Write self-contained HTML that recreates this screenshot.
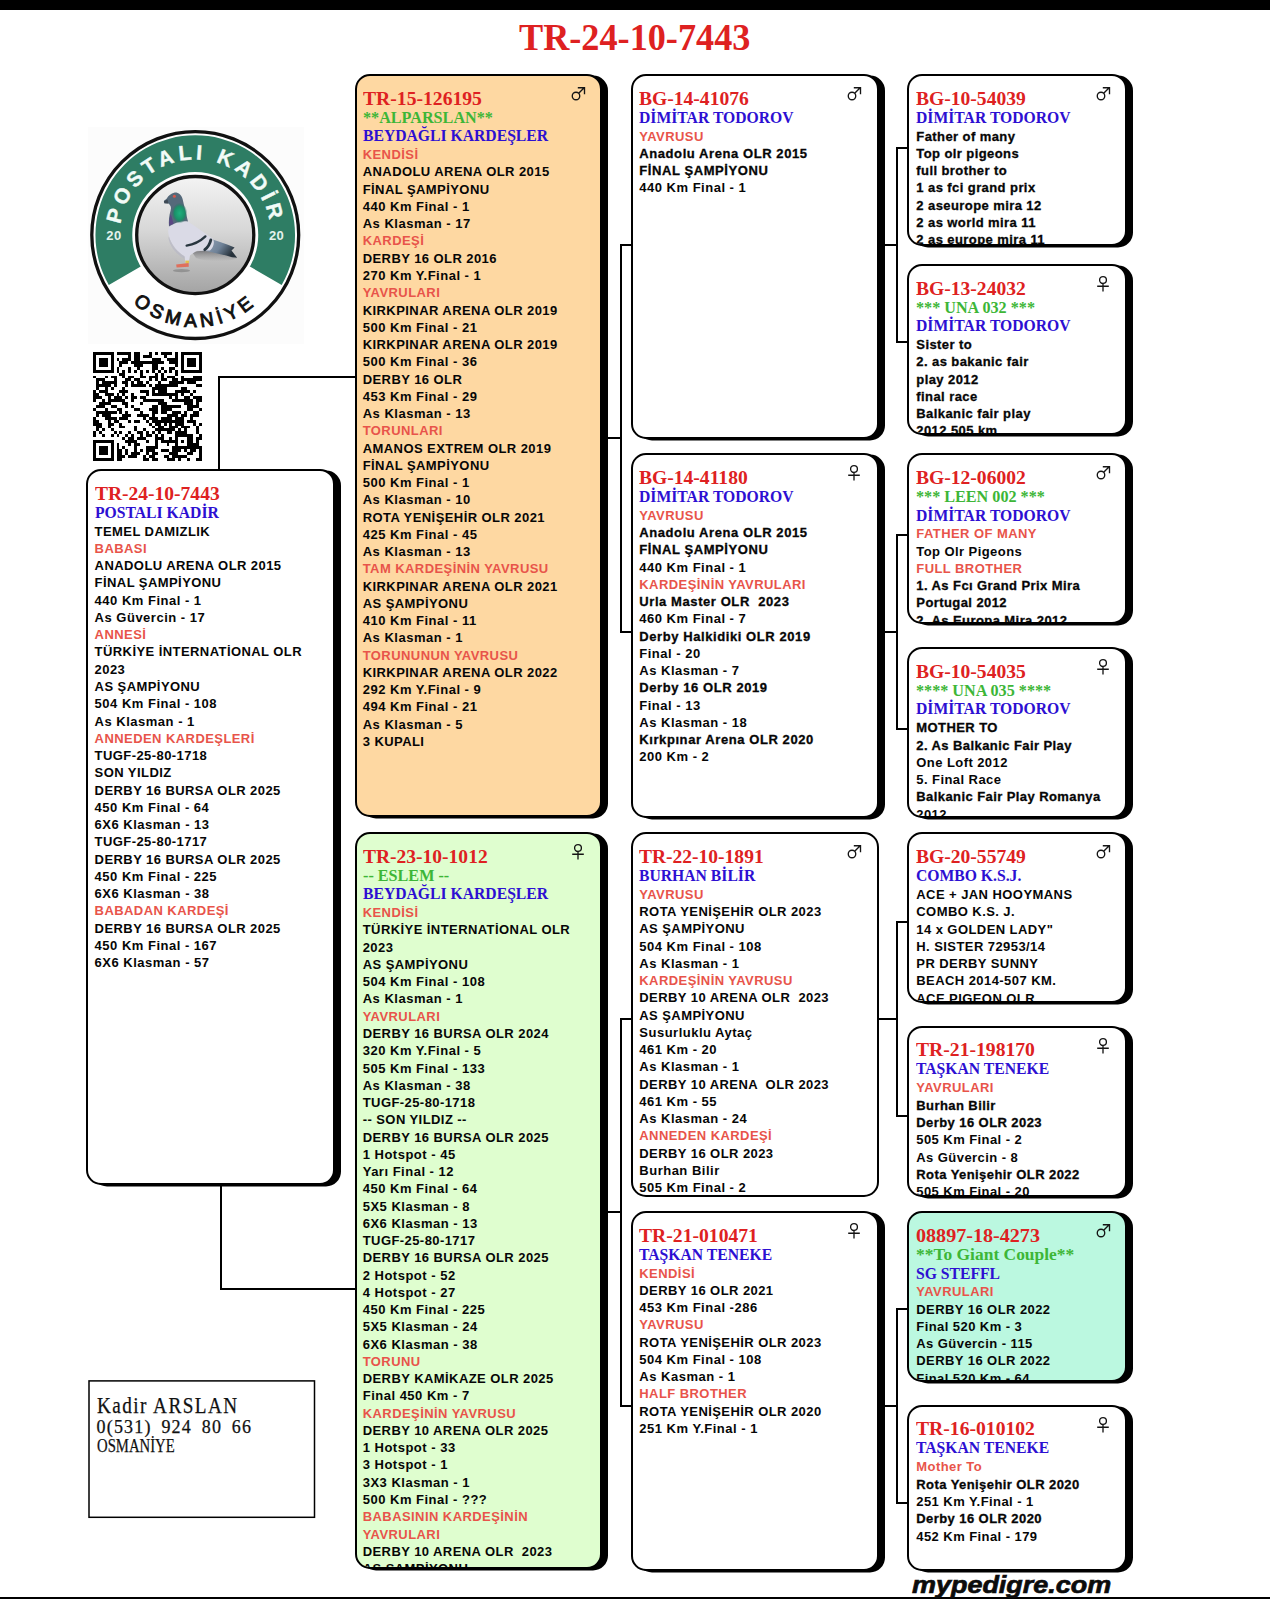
<!DOCTYPE html>
<html lang="tr"><head><meta charset="utf-8"><title>TR-24-10-7443</title>
<style>
html,body{margin:0;padding:0;background:#fff}
body{width:1270px;height:1599px;position:relative;overflow:hidden;font-family:"Liberation Sans",sans-serif}
.box{position:absolute;box-sizing:border-box;border:2px solid #000;border-radius:15px;overflow:hidden}
.l{position:absolute;white-space:pre;font-family:"Liberation Sans",sans-serif;font-weight:bold;font-size:13.0px;line-height:17.26px;letter-spacing:0.43px}
.s{position:absolute;white-space:pre;font-family:"Liberation Serif",serif;line-height:20px;transform-origin:0 0}
.sx{position:absolute;overflow:visible}
.ln{position:absolute;background:#000}
</style></head><body>
<div class="ln" style="left:0;top:0;width:1270px;height:9.5px"></div>
<div class="ln" style="left:0;top:1596.7px;width:1270px;height:2.3px"></div>
<div class="s" style="left:519.4px;top:9.2px;font-size:38px;line-height:56px;font-weight:bold;color:#DE2121;transform:scaleX(0.953)">TR-24-10-7443</div>
<svg style="position:absolute;left:85px;top:124px" width="222" height="222" viewBox="85 124 222 222">
<defs><linearGradient id="gd" x1="0" y1="0" x2="0" y2="1"><stop offset="0" stop-color="#f4f4f4"/><stop offset="0.45" stop-color="#d8d8d8"/><stop offset="1" stop-color="#a3a3a3"/></linearGradient><path id="arcT" d="M 119.75 235.05 A 75.5 75.5 0 0 1 270.75 235.05"/><path id="arcB" d="M 103.35 235.05 A 91.9 91.9 0 0 0 287.15 235.05"/></defs>
<rect x="88" y="127" width="216" height="217" fill="#fcfcfc"/>
<circle cx="195.25" cy="235.05" r="103.45" fill="#fff" stroke="#111" stroke-width="3.3"/>
<path d="M 108.82 284.95 A 99.8 99.8 0 1 1 281.68 284.95 L 245.48 264.05 A 58 58 0 1 0 145.02 264.05 Z" fill="#2E7D64"/>
<circle cx="195.25" cy="235.05" r="63" fill="#fff"/>
<circle cx="195.25" cy="235.05" r="58.55" fill="url(#gd)" stroke="#111" stroke-width="3.3"/>
<text font-family="Liberation Sans, sans-serif" font-weight="bold" font-size="21" fill="#f2fbf7" stroke="#f2fbf7" stroke-width="0.4" letter-spacing="4.1"><textPath href="#arcT" startOffset="50%" text-anchor="middle">POSTALI KADİR</textPath></text>
<text font-family="Liberation Sans, sans-serif" font-weight="bold" font-size="13" fill="#e4f3ec" letter-spacing="0.5"><tspan x="106.3" y="240">20</tspan><tspan x="268.9" y="240">20</tspan></text>
<text font-family="Liberation Sans, sans-serif" font-weight="normal" font-size="19" fill="#111" stroke="#111" stroke-width="0.95" letter-spacing="4.5"><textPath href="#arcB" startOffset="50%" text-anchor="middle">OSMANİYE</textPath></text>

<g>
<defs>
<radialGradient id="gn" cx="50%" cy="50%" r="50%"><stop offset="0" stop-color="#1fb07e"/><stop offset="0.65" stop-color="#1a9068"/><stop offset="1" stop-color="#2c6d62" stop-opacity="0"/></radialGradient>
<linearGradient id="tl" x1="0" y1="0" x2="1" y2="0.45"><stop offset="0" stop-color="#9aa8bb"/><stop offset="0.6" stop-color="#6f8298"/><stop offset="1" stop-color="#27323b"/></linearGradient>
<linearGradient id="ush" x1="0" y1="0" x2="0" y2="1"><stop offset="0" stop-color="#6f6f73" stop-opacity="0.85"/><stop offset="1" stop-color="#8c8c8c" stop-opacity="0"/></linearGradient>
</defs>
<ellipse cx="181.5" cy="270.6" rx="8.5" ry="1.7" fill="#7c7c7c" opacity="0.6"/>
<path d="M192 252 C204 249.5 222 251 237 258.5 C228 262 208 262.5 196 258 Z" fill="url(#ush)"/>
<path d="M206 237.5 C216 240.5 226 243.5 234.6 247.6 L231.5 250.6 L237.2 257.8 L232 257.2 C223 254.5 212 252 202.5 250.5 Z" fill="url(#tl)"/>
<path d="M188 221.5 C195 226 204 232.5 212.5 238.6 C215 241.5 214 247 210 250.6 C204 250.4 199 250.4 196 251.2 C193.5 252.8 191.5 254 190 255.6 L188.6 263.2 L185.6 263.2 L184.4 256.2 C178 252.5 171.6 245.5 169 236.5 C167.8 232 168 229 169 226.5 C175 222.5 182 220.8 188 221.5 Z" fill="#dadae6"/>
<path d="M169 236.5 C171.6 245.5 178 252.5 184.4 256.2 L185 259 C177 255 170 247 168.4 238 Z" fill="#b8b8c6" opacity="0.7"/>
<path d="M163.9 201 L166.8 198.4 C168.2 196 170.6 193.6 174.8 192.6 C178.6 192.4 181.4 195.2 182.6 199 C184 205 186 213.5 188 221.5 C182 220.8 175 222.5 169 226.5 C168.6 221.5 169 215.5 170.6 210.5 C171.6 207.5 170.6 205.5 168.6 203.6 L164.4 203.2 Z" fill="#55697a"/>
<ellipse cx="179.6" cy="213.2" rx="7.8" ry="10.4" fill="url(#gn)"/>
<path d="M169.2 225.6 C169 221 169.6 217.6 170.6 214 C172 217 172.6 221 173.6 224 Z" fill="#5b3f86" opacity="0.8"/>
<path d="M163.9 201 L167.6 199.4 L168.4 203.4 L164.4 203.2 Z" fill="#3f4a55"/>
<circle cx="174.4" cy="196.2" r="1.5" fill="#d8584a"/>
<path d="M186.6 245.6 C194 244.5 200.6 241 205.4 236.4" stroke="#28363f" stroke-width="2.3" fill="none" stroke-linecap="round"/>
<path d="M204.8 249.6 C208.2 247 210 243.6 210.8 240" stroke="#28363f" stroke-width="2.9" fill="none" stroke-linecap="round"/>
<rect x="185.4" y="260.6" width="3.6" height="2.6" fill="#e2c04c"/>
<path d="M176.2 264.6 L188.6 263 L188.8 266.8 L176.6 267.4 Z" fill="#df6f5c"/>
</g>

</svg>
<svg style="position:absolute;left:93.4px;top:351.8px" width="108.8" height="108.8" viewBox="0 0 37 37" shape-rendering="crispEdges"><path d="M0 0h7v1h-7zM8 0h5v1h-5zM14 0h2v1h-2zM19 0h1v1h-1zM21 0h1v1h-1zM23 0h4v1h-4zM28 0h1v1h-1zM30 0h7v1h-7zM0 1h1v1h-1zM6 1h1v1h-1zM12 1h1v1h-1zM14 1h2v1h-2zM17 1h3v1h-3zM24 1h1v1h-1zM28 1h1v1h-1zM30 1h1v1h-1zM36 1h1v1h-1zM0 2h1v1h-1zM2 2h3v1h-3zM6 2h1v1h-1zM8 2h1v1h-1zM10 2h3v1h-3zM14 2h2v1h-2zM20 2h3v1h-3zM25 2h4v1h-4zM30 2h1v1h-1zM32 2h3v1h-3zM36 2h1v1h-1zM0 3h1v1h-1zM2 3h3v1h-3zM6 3h1v1h-1zM9 3h3v1h-3zM13 3h11v1h-11zM26 3h3v1h-3zM30 3h1v1h-1zM32 3h3v1h-3zM36 3h1v1h-1zM0 4h1v1h-1zM2 4h3v1h-3zM6 4h1v1h-1zM9 4h1v1h-1zM14 4h3v1h-3zM20 4h2v1h-2zM28 4h1v1h-1zM30 4h1v1h-1zM32 4h3v1h-3zM36 4h1v1h-1zM0 5h1v1h-1zM6 5h1v1h-1zM8 5h1v1h-1zM12 5h1v1h-1zM15 5h1v1h-1zM20 5h2v1h-2zM23 5h1v1h-1zM26 5h2v1h-2zM30 5h1v1h-1zM36 5h1v1h-1zM0 6h7v1h-7zM8 6h1v1h-1zM10 6h1v1h-1zM12 6h1v1h-1zM14 6h1v1h-1zM16 6h1v1h-1zM18 6h1v1h-1zM20 6h1v1h-1zM22 6h1v1h-1zM24 6h1v1h-1zM26 6h1v1h-1zM28 6h1v1h-1zM30 6h7v1h-7zM9 7h2v1h-2zM16 7h1v1h-1zM21 7h1v1h-1zM23 7h1v1h-1zM28 7h1v1h-1zM0 8h1v1h-1zM4 8h1v1h-1zM6 8h2v1h-2zM10 8h1v1h-1zM12 8h2v1h-2zM16 8h2v1h-2zM19 8h3v1h-3zM23 8h1v1h-1zM25 8h3v1h-3zM30 8h1v1h-1zM34 8h3v1h-3zM1 9h3v1h-3zM7 9h1v1h-1zM11 9h2v1h-2zM14 9h2v1h-2zM19 9h1v1h-1zM21 9h1v1h-1zM23 9h2v1h-2zM27 9h2v1h-2zM30 9h7v1h-7zM1 10h1v1h-1zM3 10h5v1h-5zM10 10h2v1h-2zM13 10h1v1h-1zM15 10h2v1h-2zM18 10h1v1h-1zM22 10h1v1h-1zM26 10h5v1h-5zM32 10h3v1h-3zM1 11h5v1h-5zM7 11h1v1h-1zM11 11h1v1h-1zM13 11h5v1h-5zM19 11h1v1h-1zM21 11h8v1h-8zM35 11h2v1h-2zM1 12h1v1h-1zM4 12h1v1h-1zM6 12h1v1h-1zM10 12h1v1h-1zM20 12h5v1h-5zM30 12h2v1h-2zM0 13h1v1h-1zM2 13h3v1h-3zM9 13h3v1h-3zM16 13h3v1h-3zM20 13h1v1h-1zM22 13h3v1h-3zM28 13h5v1h-5zM34 13h1v1h-1zM0 14h2v1h-2zM4 14h3v1h-3zM8 14h1v1h-1zM10 14h1v1h-1zM13 14h1v1h-1zM18 14h1v1h-1zM20 14h9v1h-9zM30 14h1v1h-1zM33 14h1v1h-1zM0 15h3v1h-3zM5 15h1v1h-1zM7 15h3v1h-3zM11 15h1v1h-1zM13 15h2v1h-2zM16 15h2v1h-2zM26 15h1v1h-1zM28 15h1v1h-1zM31 15h2v1h-2zM34 15h3v1h-3zM0 16h1v1h-1zM3 16h1v1h-1zM5 16h6v1h-6zM13 16h1v1h-1zM17 16h7v1h-7zM27 16h7v1h-7zM35 16h2v1h-2zM2 17h4v1h-4zM10 17h2v1h-2zM16 17h1v1h-1zM22 17h3v1h-3zM31 17h3v1h-3zM35 17h1v1h-1zM1 18h3v1h-3zM6 18h2v1h-2zM11 18h1v1h-1zM13 18h1v1h-1zM20 18h2v1h-2zM23 18h7v1h-7zM32 18h4v1h-4zM0 19h1v1h-1zM4 19h1v1h-1zM8 19h2v1h-2zM14 19h2v1h-2zM19 19h3v1h-3zM23 19h4v1h-4zM32 19h2v1h-2zM36 19h1v1h-1zM1 20h7v1h-7zM9 20h1v1h-1zM11 20h1v1h-1zM16 20h1v1h-1zM20 20h2v1h-2zM23 20h2v1h-2zM27 20h3v1h-3zM31 20h1v1h-1zM34 20h2v1h-2zM1 21h1v1h-1zM3 21h3v1h-3zM10 21h3v1h-3zM15 21h4v1h-4zM20 21h1v1h-1zM25 21h4v1h-4zM30 21h2v1h-2zM33 21h3v1h-3zM0 22h1v1h-1zM4 22h4v1h-4zM9 22h3v1h-3zM17 22h1v1h-1zM19 22h3v1h-3zM23 22h4v1h-4zM28 22h3v1h-3zM33 22h1v1h-1zM0 23h2v1h-2zM5 23h1v1h-1zM7 23h2v1h-2zM12 23h1v1h-1zM14 23h2v1h-2zM18 23h1v1h-1zM20 23h11v1h-11zM32 23h3v1h-3zM0 24h3v1h-3zM5 24h2v1h-2zM9 24h1v1h-1zM19 24h1v1h-1zM21 24h2v1h-2zM24 24h1v1h-1zM26 24h1v1h-1zM28 24h3v1h-3zM34 24h1v1h-1zM36 24h1v1h-1zM1 25h2v1h-2zM5 25h1v1h-1zM9 25h2v1h-2zM14 25h1v1h-1zM20 25h1v1h-1zM22 25h2v1h-2zM26 25h3v1h-3zM30 25h3v1h-3zM35 25h1v1h-1zM1 26h1v1h-1zM3 26h1v1h-1zM6 26h1v1h-1zM14 26h1v1h-1zM17 26h1v1h-1zM21 26h7v1h-7zM29 26h1v1h-1zM31 26h1v1h-1zM35 26h1v1h-1zM0 27h1v1h-1zM2 27h1v1h-1zM7 27h1v1h-1zM9 27h1v1h-1zM12 27h1v1h-1zM15 27h2v1h-2zM18 27h1v1h-1zM20 27h1v1h-1zM22 27h1v1h-1zM25 27h2v1h-2zM28 27h4v1h-4zM35 27h1v1h-1zM0 28h1v1h-1zM3 28h1v1h-1zM6 28h1v1h-1zM8 28h1v1h-1zM11 28h1v1h-1zM13 28h1v1h-1zM16 28h1v1h-1zM18 28h2v1h-2zM21 28h1v1h-1zM23 28h1v1h-1zM28 28h6v1h-6zM36 28h1v1h-1zM10 29h1v1h-1zM12 29h2v1h-2zM15 29h3v1h-3zM21 29h3v1h-3zM26 29h1v1h-1zM28 29h1v1h-1zM32 29h2v1h-2zM35 29h2v1h-2zM0 30h7v1h-7zM11 30h4v1h-4zM18 30h1v1h-1zM21 30h1v1h-1zM23 30h6v1h-6zM30 30h1v1h-1zM32 30h2v1h-2zM35 30h1v1h-1zM0 31h1v1h-1zM6 31h1v1h-1zM8 31h1v1h-1zM12 31h1v1h-1zM14 31h2v1h-2zM21 31h1v1h-1zM25 31h1v1h-1zM28 31h1v1h-1zM32 31h4v1h-4zM0 32h1v1h-1zM2 32h3v1h-3zM6 32h1v1h-1zM8 32h1v1h-1zM10 32h1v1h-1zM14 32h1v1h-1zM18 32h4v1h-4zM27 32h10v1h-10zM0 33h1v1h-1zM2 33h3v1h-3zM6 33h1v1h-1zM8 33h2v1h-2zM11 33h1v1h-1zM14 33h1v1h-1zM16 33h1v1h-1zM18 33h3v1h-3zM23 33h3v1h-3zM27 33h3v1h-3zM31 33h1v1h-1zM33 33h2v1h-2zM36 33h1v1h-1zM0 34h1v1h-1zM2 34h3v1h-3zM6 34h1v1h-1zM8 34h2v1h-2zM11 34h1v1h-1zM13 34h3v1h-3zM18 34h1v1h-1zM20 34h2v1h-2zM26 34h3v1h-3zM32 34h2v1h-2zM36 34h1v1h-1zM0 35h1v1h-1zM6 35h1v1h-1zM8 35h3v1h-3zM12 35h3v1h-3zM17 35h1v1h-1zM19 35h2v1h-2zM24 35h2v1h-2zM27 35h5v1h-5zM36 35h1v1h-1zM0 36h7v1h-7zM8 36h2v1h-2zM17 36h2v1h-2zM20 36h2v1h-2zM25 36h3v1h-3zM29 36h1v1h-1zM32 36h1v1h-1zM35 36h2v1h-2z" fill="#000"/></svg>
<div class="ln" style="left:218px;top:376px;width:2px;height:94px"></div>
<div class="ln" style="left:218px;top:376px;width:138px;height:2px"></div>
<div class="ln" style="left:220px;top:1184px;width:2px;height:106px"></div>
<div class="ln" style="left:220px;top:1288px;width:136px;height:2px"></div>
<div class="ln" style="left:620.1px;top:244px;width:2px;height:389px"></div>
<div class="ln" style="left:620.1px;top:244px;width:11.899999999999977px;height:2px"></div>
<div class="ln" style="left:620.1px;top:631px;width:11.899999999999977px;height:2px"></div>
<div class="ln" style="left:607px;top:437px;width:14px;height:2px"></div>
<div class="ln" style="left:620.1px;top:1018px;width:2px;height:388.70000000000005px"></div>
<div class="ln" style="left:620.1px;top:1018px;width:11.899999999999977px;height:2px"></div>
<div class="ln" style="left:620.1px;top:1404.7px;width:11.899999999999977px;height:2px"></div>
<div class="ln" style="left:607px;top:1211px;width:14px;height:2px"></div>
<div class="ln" style="left:896.2px;top:147px;width:2px;height:196px"></div>
<div class="ln" style="left:896.2px;top:147px;width:12.299999999999955px;height:2px"></div>
<div class="ln" style="left:896.2px;top:341px;width:12.299999999999955px;height:2px"></div>
<div class="ln" style="left:884px;top:244px;width:13px;height:2px"></div>
<div class="ln" style="left:896.2px;top:534px;width:2px;height:195.79999999999995px"></div>
<div class="ln" style="left:896.2px;top:534px;width:12.299999999999955px;height:2px"></div>
<div class="ln" style="left:896.2px;top:727.8px;width:12.299999999999955px;height:2px"></div>
<div class="ln" style="left:884px;top:631px;width:13px;height:2px"></div>
<div class="ln" style="left:896.2px;top:921px;width:2px;height:196px"></div>
<div class="ln" style="left:896.2px;top:921px;width:12.299999999999955px;height:2px"></div>
<div class="ln" style="left:896.2px;top:1115px;width:12.299999999999955px;height:2px"></div>
<div class="ln" style="left:878px;top:1018px;width:19px;height:2px"></div>
<div class="ln" style="left:896.2px;top:1308px;width:2px;height:196px"></div>
<div class="ln" style="left:896.2px;top:1308px;width:12.299999999999955px;height:2px"></div>
<div class="ln" style="left:896.2px;top:1502px;width:12.299999999999955px;height:2px"></div>
<div class="ln" style="left:884px;top:1405px;width:13px;height:2px"></div>
<div class="box" style="left:86px;top:469px;width:248.5px;height:716px;background:#fff;box-shadow:6px 1.5px 0 #000;">
<div class="s" style="left:6.6px;top:12.56px;font-size:18.5px;color:#DE2121;font-weight:bold;transform:scaleX(1.054616165032127)">TR-24-10-7443</div>
<div class="s" style="left:6.6px;top:31.63px;font-size:16.5px;color:#2D0FD2;font-weight:bold;transform:scaleX(0.95)">POSTALI KADİR</div>
<div class="l" style="left:6.6px;top:51.67px;color:#060606">TEMEL DAMIZLIK</div>
<div class="l" style="left:6.6px;top:68.93px;color:#E8544A">BABASI</div>
<div class="l" style="left:6.6px;top:86.19px;color:#060606">ANADOLU ARENA OLR 2015</div>
<div class="l" style="left:6.6px;top:103.45px;color:#060606">FİNAL ŞAMPİYONU</div>
<div class="l" style="left:6.6px;top:120.71px;color:#060606;letter-spacing:0.5px">440 Km Final - 1</div>
<div class="l" style="left:6.6px;top:137.97px;color:#060606;letter-spacing:0.5px">As Güvercin - 17</div>
<div class="l" style="left:6.6px;top:155.23px;color:#E8544A">ANNESİ</div>
<div class="l" style="left:6.6px;top:172.49px;color:#060606">TÜRKİYE İNTERNATİONAL OLR</div>
<div class="l" style="left:6.6px;top:189.75px;color:#060606">2023</div>
<div class="l" style="left:6.6px;top:207.01px;color:#060606">AS ŞAMPİYONU</div>
<div class="l" style="left:6.6px;top:224.27px;color:#060606;letter-spacing:0.5px">504 Km Final - 108</div>
<div class="l" style="left:6.6px;top:241.53px;color:#060606;letter-spacing:0.5px">As Klasman - 1</div>
<div class="l" style="left:6.6px;top:258.79px;color:#E8544A">ANNEDEN KARDEŞLERİ</div>
<div class="l" style="left:6.6px;top:276.05px;color:#060606">TUGF-25-80-1718</div>
<div class="l" style="left:6.6px;top:293.31px;color:#060606">SON YILDIZ</div>
<div class="l" style="left:6.6px;top:310.57px;color:#060606">DERBY 16 BURSA OLR 2025</div>
<div class="l" style="left:6.6px;top:327.83px;color:#060606;letter-spacing:0.5px">450 Km Final - 64</div>
<div class="l" style="left:6.6px;top:345.09px;color:#060606;letter-spacing:0.5px">6X6 Klasman - 13</div>
<div class="l" style="left:6.6px;top:362.35px;color:#060606">TUGF-25-80-1717</div>
<div class="l" style="left:6.6px;top:379.61px;color:#060606">DERBY 16 BURSA OLR 2025</div>
<div class="l" style="left:6.6px;top:396.87px;color:#060606;letter-spacing:0.5px">450 Km Final - 225</div>
<div class="l" style="left:6.6px;top:414.13px;color:#060606;letter-spacing:0.5px">6X6 Klasman - 38</div>
<div class="l" style="left:6.6px;top:431.39px;color:#E8544A">BABADAN KARDEŞİ</div>
<div class="l" style="left:6.6px;top:448.65px;color:#060606">DERBY 16 BURSA OLR 2025</div>
<div class="l" style="left:6.6px;top:465.91px;color:#060606;letter-spacing:0.5px">450 Km Final - 167</div>
<div class="l" style="left:6.6px;top:483.17px;color:#060606;letter-spacing:0.5px">6X6 Klasman - 57</div>
</div>
<div class="box" style="left:354.7px;top:74px;width:247.8px;height:742.5px;background:#FED8A2;box-shadow:6px 1.5px 0 #000;">
<div class="s" style="left:6.0px;top:12.56px;font-size:18.5px;color:#DE2121;font-weight:bold;transform:scaleX(1.0617195861576882)">TR-15-126195</div>
<div class="s" style="left:6.0px;top:31.60px;font-size:16.0px;color:#3DB637;font-weight:bold;transform:scaleX(1.01)">**ALPARSLAN**</div>
<div class="s" style="left:6.0px;top:50.33px;font-size:16.5px;color:#2D0FD2;font-weight:bold;transform:scaleX(0.95)">BEYDAĞLI KARDEŞLER</div>
<div class="l" style="left:6.0px;top:70.17px;color:#E8544A">KENDİSİ</div>
<div class="l" style="left:6.0px;top:87.43px;color:#060606">ANADOLU ARENA OLR 2015</div>
<div class="l" style="left:6.0px;top:104.69px;color:#060606">FİNAL ŞAMPİYONU</div>
<div class="l" style="left:6.0px;top:121.95px;color:#060606;letter-spacing:0.5px">440 Km Final - 1</div>
<div class="l" style="left:6.0px;top:139.21px;color:#060606;letter-spacing:0.5px">As Klasman - 17</div>
<div class="l" style="left:6.0px;top:156.47px;color:#E8544A">KARDEŞİ</div>
<div class="l" style="left:6.0px;top:173.73px;color:#060606">DERBY 16 OLR 2016</div>
<div class="l" style="left:6.0px;top:190.99px;color:#060606;letter-spacing:0.5px">270 Km Y.Final - 1</div>
<div class="l" style="left:6.0px;top:208.25px;color:#E8544A">YAVRULARI</div>
<div class="l" style="left:6.0px;top:225.51px;color:#060606">KIRKPINAR ARENA OLR 2019</div>
<div class="l" style="left:6.0px;top:242.77px;color:#060606;letter-spacing:0.5px">500 Km Final - 21</div>
<div class="l" style="left:6.0px;top:260.03px;color:#060606">KIRKPINAR ARENA OLR 2019</div>
<div class="l" style="left:6.0px;top:277.29px;color:#060606;letter-spacing:0.5px">500 Km Final - 36</div>
<div class="l" style="left:6.0px;top:294.55px;color:#060606">DERBY 16 OLR</div>
<div class="l" style="left:6.0px;top:311.81px;color:#060606;letter-spacing:0.5px">453 Km Final - 29</div>
<div class="l" style="left:6.0px;top:329.07px;color:#060606;letter-spacing:0.5px">As Klasman - 13</div>
<div class="l" style="left:6.0px;top:346.33px;color:#E8544A">TORUNLARI</div>
<div class="l" style="left:6.0px;top:363.59px;color:#060606">AMANOS EXTREM OLR 2019</div>
<div class="l" style="left:6.0px;top:380.85px;color:#060606">FİNAL ŞAMPİYONU</div>
<div class="l" style="left:6.0px;top:398.11px;color:#060606;letter-spacing:0.5px">500 Km Final - 1</div>
<div class="l" style="left:6.0px;top:415.37px;color:#060606;letter-spacing:0.5px">As Klasman - 10</div>
<div class="l" style="left:6.0px;top:432.63px;color:#060606">ROTA YENİŞEHİR OLR 2021</div>
<div class="l" style="left:6.0px;top:449.89px;color:#060606;letter-spacing:0.5px">425 Km Final - 45</div>
<div class="l" style="left:6.0px;top:467.15px;color:#060606;letter-spacing:0.5px">As Klasman - 13</div>
<div class="l" style="left:6.0px;top:484.41px;color:#E8544A">TAM KARDEŞİNİN YAVRUSU</div>
<div class="l" style="left:6.0px;top:501.67px;color:#060606">KIRKPINAR ARENA OLR 2021</div>
<div class="l" style="left:6.0px;top:518.93px;color:#060606">AS ŞAMPİYONU</div>
<div class="l" style="left:6.0px;top:536.19px;color:#060606;letter-spacing:0.5px">410 Km Final - 11</div>
<div class="l" style="left:6.0px;top:553.45px;color:#060606;letter-spacing:0.5px">As Klasman - 1</div>
<div class="l" style="left:6.0px;top:570.71px;color:#E8544A">TORUNUNUN YAVRUSU</div>
<div class="l" style="left:6.0px;top:587.97px;color:#060606">KIRKPINAR ARENA OLR 2022</div>
<div class="l" style="left:6.0px;top:605.23px;color:#060606;letter-spacing:0.5px">292 Km Y.Final - 9</div>
<div class="l" style="left:6.0px;top:622.49px;color:#060606;letter-spacing:0.5px">494 Km Final - 21</div>
<div class="l" style="left:6.0px;top:639.75px;color:#060606;letter-spacing:0.5px">As Klasman - 5</div>
<div class="l" style="left:6.0px;top:657.01px;color:#060606">3 KUPALI</div>
<svg class="sx" style="left:211.1px;top:8.1px" width="20" height="20" viewBox="0 0 20 20"><g fill="none" stroke="#151515" stroke-width="1.35"><circle cx="8" cy="12" r="3.75"/><path d="M10.7 9.3 L16.4 3.6 M9.8 3.75 H16.5 V10.2"/></g></svg>
</div>
<div class="box" style="left:354.7px;top:832px;width:247.8px;height:737px;background:#DFFECF;box-shadow:6px 1.5px 0 #000;">
<div class="s" style="left:6.0px;top:12.56px;font-size:18.5px;color:#DE2121;font-weight:bold;transform:scaleX(1.054616165032127)">TR-23-10-1012</div>
<div class="s" style="left:6.0px;top:31.60px;font-size:16.0px;color:#3DB637;font-weight:bold;transform:scaleX(1.01)">-- ESLEM --</div>
<div class="s" style="left:6.0px;top:50.33px;font-size:16.5px;color:#2D0FD2;font-weight:bold;transform:scaleX(0.95)">BEYDAĞLI KARDEŞLER</div>
<div class="l" style="left:6.0px;top:70.17px;color:#E8544A">KENDİSİ</div>
<div class="l" style="left:6.0px;top:87.43px;color:#060606">TÜRKİYE İNTERNATİONAL OLR</div>
<div class="l" style="left:6.0px;top:104.69px;color:#060606">2023</div>
<div class="l" style="left:6.0px;top:121.95px;color:#060606">AS ŞAMPİYONU</div>
<div class="l" style="left:6.0px;top:139.21px;color:#060606;letter-spacing:0.5px">504 Km Final - 108</div>
<div class="l" style="left:6.0px;top:156.47px;color:#060606;letter-spacing:0.5px">As Klasman - 1</div>
<div class="l" style="left:6.0px;top:173.73px;color:#E8544A">YAVRULARI</div>
<div class="l" style="left:6.0px;top:190.99px;color:#060606">DERBY 16 BURSA OLR 2024</div>
<div class="l" style="left:6.0px;top:208.25px;color:#060606;letter-spacing:0.5px">320 Km Y.Final - 5</div>
<div class="l" style="left:6.0px;top:225.51px;color:#060606;letter-spacing:0.5px">505 Km Final - 133</div>
<div class="l" style="left:6.0px;top:242.77px;color:#060606;letter-spacing:0.5px">As Klasman - 38</div>
<div class="l" style="left:6.0px;top:260.03px;color:#060606">TUGF-25-80-1718</div>
<div class="l" style="left:6.0px;top:277.29px;color:#060606">-- SON YILDIZ --</div>
<div class="l" style="left:6.0px;top:294.55px;color:#060606">DERBY 16 BURSA OLR 2025</div>
<div class="l" style="left:6.0px;top:311.81px;color:#060606;letter-spacing:0.5px">1 Hotspot - 45</div>
<div class="l" style="left:6.0px;top:329.07px;color:#060606;letter-spacing:0.5px">Yarı Final - 12</div>
<div class="l" style="left:6.0px;top:346.33px;color:#060606;letter-spacing:0.5px">450 Km Final - 64</div>
<div class="l" style="left:6.0px;top:363.59px;color:#060606;letter-spacing:0.5px">5X5 Klasman - 8</div>
<div class="l" style="left:6.0px;top:380.85px;color:#060606;letter-spacing:0.5px">6X6 Klasman - 13</div>
<div class="l" style="left:6.0px;top:398.11px;color:#060606">TUGF-25-80-1717</div>
<div class="l" style="left:6.0px;top:415.37px;color:#060606">DERBY 16 BURSA OLR 2025</div>
<div class="l" style="left:6.0px;top:432.63px;color:#060606;letter-spacing:0.5px">2 Hotspot - 52</div>
<div class="l" style="left:6.0px;top:449.89px;color:#060606;letter-spacing:0.5px">4 Hotspot - 27</div>
<div class="l" style="left:6.0px;top:467.15px;color:#060606;letter-spacing:0.5px">450 Km Final - 225</div>
<div class="l" style="left:6.0px;top:484.41px;color:#060606;letter-spacing:0.5px">5X5 Klasman - 24</div>
<div class="l" style="left:6.0px;top:501.67px;color:#060606;letter-spacing:0.5px">6X6 Klasman - 38</div>
<div class="l" style="left:6.0px;top:518.93px;color:#E8544A">TORUNU</div>
<div class="l" style="left:6.0px;top:536.19px;color:#060606">DERBY KAMİKAZE OLR 2025</div>
<div class="l" style="left:6.0px;top:553.45px;color:#060606;letter-spacing:0.5px">Final 450 Km - 7</div>
<div class="l" style="left:6.0px;top:570.71px;color:#E8544A">KARDEŞİNİN YAVRUSU</div>
<div class="l" style="left:6.0px;top:587.97px;color:#060606">DERBY 10 ARENA OLR 2025</div>
<div class="l" style="left:6.0px;top:605.23px;color:#060606;letter-spacing:0.5px">1 Hotspot - 33</div>
<div class="l" style="left:6.0px;top:622.49px;color:#060606;letter-spacing:0.5px">3 Hotspot - 1</div>
<div class="l" style="left:6.0px;top:639.75px;color:#060606;letter-spacing:0.5px">3X3 Klasman - 1</div>
<div class="l" style="left:6.0px;top:657.01px;color:#060606;letter-spacing:0.5px">500 Km Final - ???</div>
<div class="l" style="left:6.0px;top:674.27px;color:#E8544A">BABASININ KARDEŞİNİN</div>
<div class="l" style="left:6.0px;top:691.53px;color:#E8544A">YAVRULARI</div>
<div class="l" style="left:6.0px;top:708.79px;color:#060606">DERBY 10 ARENA OLR  2023</div>
<div class="l" style="left:6.0px;top:726.05px;color:#060606">AS ŞAMPİYONU</div>
<svg class="sx" style="left:213.1px;top:8.2px" width="20" height="20" viewBox="0 0 20 20"><g fill="none" stroke="#151515" stroke-width="1.35"><circle cx="8" cy="6" r="3.4"/><path d="M8 9.4 V17.5 M2.2 12.2 H13.8"/></g></svg>
</div>
<div class="box" style="left:631.3px;top:74px;width:247.7px;height:364.5px;background:#fff;box-shadow:6px 1.5px 0 #000;">
<div class="s" style="left:6.0px;top:12.56px;font-size:18.5px;color:#DE2121;font-weight:bold;transform:scaleX(1.0577427821522312)">BG-14-41076</div>
<div class="s" style="left:6.0px;top:31.63px;font-size:16.5px;color:#2D0FD2;font-weight:bold;transform:scaleX(0.95)">DİMİTAR TODOROV</div>
<div class="l" style="left:6.0px;top:51.67px;color:#E8544A">YAVRUSU</div>
<div class="l" style="left:6.0px;top:68.93px;color:#060606;-webkit-text-stroke:0.3px #060606;letter-spacing:0.58px">Anadolu Arena OLR 2015</div>
<div class="l" style="left:6.0px;top:86.19px;color:#060606;-webkit-text-stroke:0.3px #060606;letter-spacing:0.58px">FİNAL ŞAMPİYONU</div>
<div class="l" style="left:6.0px;top:103.45px;color:#060606;letter-spacing:0.5px">440 Km Final - 1</div>
<svg class="sx" style="left:211.0px;top:8.1px" width="20" height="20" viewBox="0 0 20 20"><g fill="none" stroke="#151515" stroke-width="1.35"><circle cx="8" cy="12" r="3.75"/><path d="M10.7 9.3 L16.4 3.6 M9.8 3.75 H16.5 V10.2"/></g></svg>
</div>
<div class="box" style="left:631.3px;top:453.1px;width:247.7px;height:364.5px;background:#fff;box-shadow:6px 1.5px 0 #000;">
<div class="s" style="left:6.0px;top:12.56px;font-size:18.5px;color:#DE2121;font-weight:bold;transform:scaleX(1.0577427821522312)">BG-14-41180</div>
<div class="s" style="left:6.0px;top:31.63px;font-size:16.5px;color:#2D0FD2;font-weight:bold;transform:scaleX(0.95)">DİMİTAR TODOROV</div>
<div class="l" style="left:6.0px;top:51.67px;color:#E8544A">YAVRUSU</div>
<div class="l" style="left:6.0px;top:68.93px;color:#060606;-webkit-text-stroke:0.3px #060606;letter-spacing:0.58px">Anadolu Arena OLR 2015</div>
<div class="l" style="left:6.0px;top:86.19px;color:#060606;-webkit-text-stroke:0.3px #060606;letter-spacing:0.58px">FİNAL ŞAMPİYONU</div>
<div class="l" style="left:6.0px;top:103.45px;color:#060606;letter-spacing:0.5px">440 Km Final - 1</div>
<div class="l" style="left:6.0px;top:120.71px;color:#E8544A">KARDEŞİNİN YAVRULARI</div>
<div class="l" style="left:6.0px;top:137.97px;color:#060606;-webkit-text-stroke:0.3px #060606;letter-spacing:0.58px">Urla Master OLR  2023</div>
<div class="l" style="left:6.0px;top:155.23px;color:#060606;letter-spacing:0.5px">460 Km Final - 7</div>
<div class="l" style="left:6.0px;top:172.49px;color:#060606;-webkit-text-stroke:0.3px #060606;letter-spacing:0.58px">Derby Halkidiki OLR 2019</div>
<div class="l" style="left:6.0px;top:189.75px;color:#060606;letter-spacing:0.5px">Final - 20</div>
<div class="l" style="left:6.0px;top:207.01px;color:#060606;letter-spacing:0.5px">As Klasman - 7</div>
<div class="l" style="left:6.0px;top:224.27px;color:#060606;-webkit-text-stroke:0.3px #060606;letter-spacing:0.58px">Derby 16 OLR 2019</div>
<div class="l" style="left:6.0px;top:241.53px;color:#060606;letter-spacing:0.5px">Final - 13</div>
<div class="l" style="left:6.0px;top:258.79px;color:#060606;letter-spacing:0.5px">As Klasman - 18</div>
<div class="l" style="left:6.0px;top:276.05px;color:#060606;-webkit-text-stroke:0.3px #060606;letter-spacing:0.58px">Kırkpınar Arena OLR 2020</div>
<div class="l" style="left:6.0px;top:293.31px;color:#060606;letter-spacing:0.5px">200 Km - 2</div>
<svg class="sx" style="left:213.0px;top:8.2px" width="20" height="20" viewBox="0 0 20 20"><g fill="none" stroke="#151515" stroke-width="1.35"><circle cx="8" cy="6" r="3.4"/><path d="M8 9.4 V17.5 M2.2 12.2 H13.8"/></g></svg>
</div>
<div class="box" style="left:631.3px;top:832.1px;width:247.7px;height:364.7px;background:#fff;">
<div class="s" style="left:6.0px;top:12.56px;font-size:18.5px;color:#DE2121;font-weight:bold;transform:scaleX(1.054616165032127)">TR-22-10-1891</div>
<div class="s" style="left:6.0px;top:31.63px;font-size:16.5px;color:#2D0FD2;font-weight:bold;transform:scaleX(0.95)">BURHAN BİLİR</div>
<div class="l" style="left:6.0px;top:51.67px;color:#E8544A">YAVRUSU</div>
<div class="l" style="left:6.0px;top:68.93px;color:#060606">ROTA YENİŞEHİR OLR 2023</div>
<div class="l" style="left:6.0px;top:86.19px;color:#060606">AS ŞAMPİYONU</div>
<div class="l" style="left:6.0px;top:103.45px;color:#060606;letter-spacing:0.5px">504 Km Final - 108</div>
<div class="l" style="left:6.0px;top:120.71px;color:#060606;letter-spacing:0.5px">As Klasman - 1</div>
<div class="l" style="left:6.0px;top:137.97px;color:#E8544A">KARDEŞİNİN YAVRUSU</div>
<div class="l" style="left:6.0px;top:155.23px;color:#060606">DERBY 10 ARENA OLR  2023</div>
<div class="l" style="left:6.0px;top:172.49px;color:#060606">AS ŞAMPİYONU</div>
<div class="l" style="left:6.0px;top:189.75px;color:#060606;letter-spacing:0.5px">Susurluklu Aytaç</div>
<div class="l" style="left:6.0px;top:207.01px;color:#060606;letter-spacing:0.5px">461 Km - 20</div>
<div class="l" style="left:6.0px;top:224.27px;color:#060606;letter-spacing:0.5px">As Klasman - 1</div>
<div class="l" style="left:6.0px;top:241.53px;color:#060606">DERBY 10 ARENA  OLR 2023</div>
<div class="l" style="left:6.0px;top:258.79px;color:#060606;letter-spacing:0.5px">461 Km - 55</div>
<div class="l" style="left:6.0px;top:276.05px;color:#060606;letter-spacing:0.5px">As Klasman - 24</div>
<div class="l" style="left:6.0px;top:293.31px;color:#E8544A">ANNEDEN KARDEŞİ</div>
<div class="l" style="left:6.0px;top:310.57px;color:#060606">DERBY 16 OLR 2023</div>
<div class="l" style="left:6.0px;top:327.83px;color:#060606;letter-spacing:0.5px">Burhan Bilir</div>
<div class="l" style="left:6.0px;top:345.09px;color:#060606;letter-spacing:0.5px">505 Km Final - 2</div>
<div class="l" style="left:6.0px;top:362.35px;color:#060606">DERBY 16 OLR 2023</div>
<svg class="sx" style="left:211.0px;top:8.1px" width="20" height="20" viewBox="0 0 20 20"><g fill="none" stroke="#151515" stroke-width="1.35"><circle cx="8" cy="12" r="3.75"/><path d="M10.7 9.3 L16.4 3.6 M9.8 3.75 H16.5 V10.2"/></g></svg>
</div>
<div class="box" style="left:631.3px;top:1211px;width:247.7px;height:359.7px;background:#fff;box-shadow:6px 1.5px 0 #000;">
<div class="s" style="left:6.0px;top:12.56px;font-size:18.5px;color:#DE2121;font-weight:bold;transform:scaleX(1.0617195861576882)">TR-21-010471</div>
<div class="s" style="left:6.0px;top:31.63px;font-size:16.5px;color:#2D0FD2;font-weight:bold;transform:scaleX(0.95)">TAŞKAN TENEKE</div>
<div class="l" style="left:6.0px;top:51.67px;color:#E8544A">KENDİSİ</div>
<div class="l" style="left:6.0px;top:68.93px;color:#060606">DERBY 16 OLR 2021</div>
<div class="l" style="left:6.0px;top:86.19px;color:#060606;letter-spacing:0.5px">453 Km Final -286</div>
<div class="l" style="left:6.0px;top:103.45px;color:#E8544A">YAVRUSU</div>
<div class="l" style="left:6.0px;top:120.71px;color:#060606">ROTA YENİŞEHİR OLR 2023</div>
<div class="l" style="left:6.0px;top:137.97px;color:#060606;letter-spacing:0.5px">504 Km Final - 108</div>
<div class="l" style="left:6.0px;top:155.23px;color:#060606;letter-spacing:0.5px">As Kasman - 1</div>
<div class="l" style="left:6.0px;top:172.49px;color:#E8544A">HALF BROTHER</div>
<div class="l" style="left:6.0px;top:189.75px;color:#060606">ROTA YENİŞEHİR OLR 2020</div>
<div class="l" style="left:6.0px;top:207.01px;color:#060606;letter-spacing:0.5px">251 Km Y.Final - 1</div>
<svg class="sx" style="left:213.0px;top:8.2px" width="20" height="20" viewBox="0 0 20 20"><g fill="none" stroke="#151515" stroke-width="1.35"><circle cx="8" cy="6" r="3.4"/><path d="M8 9.4 V17.5 M2.2 12.2 H13.8"/></g></svg>
</div>
<div class="box" style="left:907.3px;top:74px;width:220px;height:171.5px;background:#fff;box-shadow:6px 1.5px 0 #000;">
<div class="s" style="left:7px;top:12.56px;font-size:18.5px;color:#DE2121;font-weight:bold;transform:scaleX(1.0577427821522312)">BG-10-54039</div>
<div class="s" style="left:7px;top:31.63px;font-size:16.5px;color:#2D0FD2;font-weight:bold;transform:scaleX(0.95)">DİMİTAR TODOROV</div>
<div class="l" style="left:7px;top:51.67px;color:#060606;-webkit-text-stroke:0.3px #060606;letter-spacing:0.42px">Father of many</div>
<div class="l" style="left:7px;top:68.93px;color:#060606;-webkit-text-stroke:0.3px #060606;letter-spacing:0.42px">Top olr pigeons</div>
<div class="l" style="left:7px;top:86.19px;color:#060606;-webkit-text-stroke:0.3px #060606;letter-spacing:0.42px">full brother to</div>
<div class="l" style="left:7px;top:103.45px;color:#060606;-webkit-text-stroke:0.3px #060606;letter-spacing:0.42px">1 as fci grand prix</div>
<div class="l" style="left:7px;top:120.71px;color:#060606;-webkit-text-stroke:0.3px #060606;letter-spacing:0.42px">2 aseurope mira 12</div>
<div class="l" style="left:7px;top:137.97px;color:#060606;-webkit-text-stroke:0.3px #060606;letter-spacing:0.42px">2 as world mira 11</div>
<div class="l" style="left:7px;top:155.23px;color:#060606;-webkit-text-stroke:0.3px #060606;letter-spacing:0.42px">2 as europe mira 11</div>
<svg class="sx" style="left:183.3px;top:8.1px" width="20" height="20" viewBox="0 0 20 20"><g fill="none" stroke="#151515" stroke-width="1.35"><circle cx="8" cy="12" r="3.75"/><path d="M10.7 9.3 L16.4 3.6 M9.8 3.75 H16.5 V10.2"/></g></svg>
</div>
<div class="box" style="left:907.3px;top:264px;width:220px;height:171px;background:#fff;box-shadow:6px 1.5px 0 #000;">
<div class="s" style="left:7px;top:12.56px;font-size:18.5px;color:#DE2121;font-weight:bold;transform:scaleX(1.0577427821522312)">BG-13-24032</div>
<div class="s" style="left:7px;top:31.60px;font-size:16.0px;color:#3DB637;font-weight:bold;transform:scaleX(1.01)">*** UNA 032 ***</div>
<div class="s" style="left:7px;top:50.33px;font-size:16.5px;color:#2D0FD2;font-weight:bold;transform:scaleX(0.95)">DİMİTAR TODOROV</div>
<div class="l" style="left:7px;top:70.17px;color:#060606;-webkit-text-stroke:0.3px #060606;letter-spacing:0.42px">Sister to</div>
<div class="l" style="left:7px;top:87.43px;color:#060606;-webkit-text-stroke:0.3px #060606;letter-spacing:0.42px">2. as bakanic fair</div>
<div class="l" style="left:7px;top:104.69px;color:#060606;-webkit-text-stroke:0.3px #060606;letter-spacing:0.42px">play 2012</div>
<div class="l" style="left:7px;top:121.95px;color:#060606;-webkit-text-stroke:0.3px #060606;letter-spacing:0.42px">final race</div>
<div class="l" style="left:7px;top:139.21px;color:#060606;-webkit-text-stroke:0.3px #060606;letter-spacing:0.42px">Balkanic fair play</div>
<div class="l" style="left:7px;top:156.47px;color:#060606;-webkit-text-stroke:0.3px #060606;letter-spacing:0.42px">2012 505 km</div>
<svg class="sx" style="left:185.3px;top:8.2px" width="20" height="20" viewBox="0 0 20 20"><g fill="none" stroke="#151515" stroke-width="1.35"><circle cx="8" cy="6" r="3.4"/><path d="M8 9.4 V17.5 M2.2 12.2 H13.8"/></g></svg>
</div>
<div class="box" style="left:907.3px;top:453.2px;width:220px;height:171px;background:#fff;box-shadow:6px 1.5px 0 #000;">
<div class="s" style="left:7px;top:12.56px;font-size:18.5px;color:#DE2121;font-weight:bold;transform:scaleX(1.0577427821522312)">BG-12-06002</div>
<div class="s" style="left:7px;top:31.60px;font-size:16.0px;color:#3DB637;font-weight:bold;transform:scaleX(1.01)">*** LEEN 002 ***</div>
<div class="s" style="left:7px;top:50.33px;font-size:16.5px;color:#2D0FD2;font-weight:bold;transform:scaleX(0.95)">DİMİTAR TODOROV</div>
<div class="l" style="left:7px;top:70.17px;color:#E8544A">FATHER OF MANY</div>
<div class="l" style="left:7px;top:87.43px;color:#060606">Top Olr Pigeons</div>
<div class="l" style="left:7px;top:104.69px;color:#E8544A">FULL BROTHER</div>
<div class="l" style="left:7px;top:121.95px;color:#060606;-webkit-text-stroke:0.3px #060606;letter-spacing:0.42px">1. As Fcı Grand Prix Mira</div>
<div class="l" style="left:7px;top:139.21px;color:#060606;-webkit-text-stroke:0.3px #060606;letter-spacing:0.42px">Portugal 2012</div>
<div class="l" style="left:7px;top:156.47px;color:#060606;-webkit-text-stroke:0.3px #060606;letter-spacing:0.42px">2. As Europa Mira 2012</div>
<svg class="sx" style="left:183.3px;top:8.1px" width="20" height="20" viewBox="0 0 20 20"><g fill="none" stroke="#151515" stroke-width="1.35"><circle cx="8" cy="12" r="3.75"/><path d="M10.7 9.3 L16.4 3.6 M9.8 3.75 H16.5 V10.2"/></g></svg>
</div>
<div class="box" style="left:907.3px;top:647.1px;width:220px;height:171px;background:#fff;box-shadow:6px 1.5px 0 #000;">
<div class="s" style="left:7px;top:12.56px;font-size:18.5px;color:#DE2121;font-weight:bold;transform:scaleX(1.0577427821522312)">BG-10-54035</div>
<div class="s" style="left:7px;top:31.60px;font-size:16.0px;color:#3DB637;font-weight:bold;transform:scaleX(1.01)">**** UNA 035 ****</div>
<div class="s" style="left:7px;top:50.33px;font-size:16.5px;color:#2D0FD2;font-weight:bold;transform:scaleX(0.95)">DİMİTAR TODOROV</div>
<div class="l" style="left:7px;top:70.17px;color:#060606;-webkit-text-stroke:0.3px #060606;letter-spacing:0.42px">MOTHER TO</div>
<div class="l" style="left:7px;top:87.43px;color:#060606;-webkit-text-stroke:0.3px #060606;letter-spacing:0.42px">2. As Balkanic Fair Play</div>
<div class="l" style="left:7px;top:104.69px;color:#060606">One Loft 2012</div>
<div class="l" style="left:7px;top:121.95px;color:#060606">5. Final Race</div>
<div class="l" style="left:7px;top:139.21px;color:#060606;-webkit-text-stroke:0.3px #060606;letter-spacing:0.42px">Balkanic Fair Play Romanya</div>
<div class="l" style="left:7px;top:156.47px;color:#060606">2012</div>
<svg class="sx" style="left:185.3px;top:8.2px" width="20" height="20" viewBox="0 0 20 20"><g fill="none" stroke="#151515" stroke-width="1.35"><circle cx="8" cy="6" r="3.4"/><path d="M8 9.4 V17.5 M2.2 12.2 H13.8"/></g></svg>
</div>
<div class="box" style="left:907.3px;top:832.4px;width:220px;height:171px;background:#fff;box-shadow:6px 1.5px 0 #000;">
<div class="s" style="left:7px;top:12.56px;font-size:18.5px;color:#DE2121;font-weight:bold;transform:scaleX(1.0577427821522312)">BG-20-55749</div>
<div class="s" style="left:7px;top:31.63px;font-size:16.5px;color:#2D0FD2;font-weight:bold;transform:scaleX(0.95)">COMBO K.S.J.</div>
<div class="l" style="left:7px;top:51.67px;color:#060606">ACE + JAN HOOYMANS</div>
<div class="l" style="left:7px;top:68.93px;color:#060606">COMBO K.S. J.</div>
<div class="l" style="left:7px;top:86.19px;color:#060606">14 x GOLDEN LADY"</div>
<div class="l" style="left:7px;top:103.45px;color:#060606">H. SISTER 72953/14</div>
<div class="l" style="left:7px;top:120.71px;color:#060606">PR DERBY SUNNY</div>
<div class="l" style="left:7px;top:137.97px;color:#060606">BEACH 2014-507 KM.</div>
<div class="l" style="left:7px;top:155.23px;color:#060606">ACE PIGEON OLR</div>
<svg class="sx" style="left:183.3px;top:8.1px" width="20" height="20" viewBox="0 0 20 20"><g fill="none" stroke="#151515" stroke-width="1.35"><circle cx="8" cy="12" r="3.75"/><path d="M10.7 9.3 L16.4 3.6 M9.8 3.75 H16.5 V10.2"/></g></svg>
</div>
<div class="box" style="left:907.3px;top:1025.8px;width:220px;height:171px;background:#fff;box-shadow:6px 1.5px 0 #000;">
<div class="s" style="left:7px;top:12.56px;font-size:18.5px;color:#DE2121;font-weight:bold;transform:scaleX(1.0617195861576882)">TR-21-198170</div>
<div class="s" style="left:7px;top:31.63px;font-size:16.5px;color:#2D0FD2;font-weight:bold;transform:scaleX(0.95)">TAŞKAN TENEKE</div>
<div class="l" style="left:7px;top:51.67px;color:#E8544A">YAVRULARI</div>
<div class="l" style="left:7px;top:68.93px;color:#060606;-webkit-text-stroke:0.3px #060606;letter-spacing:0.42px">Burhan Bilir</div>
<div class="l" style="left:7px;top:86.19px;color:#060606;-webkit-text-stroke:0.3px #060606;letter-spacing:0.42px">Derby 16 OLR 2023</div>
<div class="l" style="left:7px;top:103.45px;color:#060606">505 Km Final - 2</div>
<div class="l" style="left:7px;top:120.71px;color:#060606">As Güvercin - 8</div>
<div class="l" style="left:7px;top:137.97px;color:#060606;-webkit-text-stroke:0.3px #060606;letter-spacing:0.42px">Rota Yenişehir OLR 2022</div>
<div class="l" style="left:7px;top:155.23px;color:#060606">505 Km Final - 20</div>
<svg class="sx" style="left:185.3px;top:8.2px" width="20" height="20" viewBox="0 0 20 20"><g fill="none" stroke="#151515" stroke-width="1.35"><circle cx="8" cy="6" r="3.4"/><path d="M8 9.4 V17.5 M2.2 12.2 H13.8"/></g></svg>
</div>
<div class="box" style="left:907.3px;top:1211.2px;width:220px;height:171px;background:#BBF8E0;box-shadow:6px 1.5px 0 #000;">
<div class="s" style="left:7px;top:12.56px;font-size:18.5px;color:#DE2121;font-weight:bold;transform:scaleX(1.0864381520119226)">08897-18-4273</div>
<div class="s" style="left:7px;top:31.60px;font-size:16.0px;color:#3DB637;font-weight:bold;transform:scaleX(1.09)">**To Giant Couple**</div>
<div class="s" style="left:7px;top:50.33px;font-size:16.5px;color:#2D0FD2;font-weight:bold;transform:scaleX(0.95)">SG STEFFL</div>
<div class="l" style="left:7px;top:70.17px;color:#E8544A">YAVRULARI</div>
<div class="l" style="left:7px;top:87.43px;color:#060606">DERBY 16 OLR 2022</div>
<div class="l" style="left:7px;top:104.69px;color:#060606">Final 520 Km - 3</div>
<div class="l" style="left:7px;top:121.95px;color:#060606">As Güvercin - 115</div>
<div class="l" style="left:7px;top:139.21px;color:#060606">DERBY 16 OLR 2022</div>
<div class="l" style="left:7px;top:156.47px;color:#060606">Final 520 Km - 64</div>
<svg class="sx" style="left:183.3px;top:8.1px" width="20" height="20" viewBox="0 0 20 20"><g fill="none" stroke="#151515" stroke-width="1.35"><circle cx="8" cy="12" r="3.75"/><path d="M10.7 9.3 L16.4 3.6 M9.8 3.75 H16.5 V10.2"/></g></svg>
</div>
<div class="box" style="left:907.3px;top:1404.8px;width:220px;height:165.8px;background:#fff;box-shadow:6px 1.5px 0 #000;">
<div class="s" style="left:7px;top:12.56px;font-size:18.5px;color:#DE2121;font-weight:bold;transform:scaleX(1.0617195861576882)">TR-16-010102</div>
<div class="s" style="left:7px;top:31.63px;font-size:16.5px;color:#2D0FD2;font-weight:bold;transform:scaleX(0.95)">TAŞKAN TENEKE</div>
<div class="l" style="left:7px;top:51.67px;color:#E8544A">Mother To</div>
<div class="l" style="left:7px;top:68.93px;color:#060606;-webkit-text-stroke:0.3px #060606;letter-spacing:0.42px">Rota Yenişehir OLR 2020</div>
<div class="l" style="left:7px;top:86.19px;color:#060606">251 Km Y.Final - 1</div>
<div class="l" style="left:7px;top:103.45px;color:#060606;-webkit-text-stroke:0.3px #060606;letter-spacing:0.42px">Derby 16 OLR 2020</div>
<div class="l" style="left:7px;top:120.71px;color:#060606">452 Km Final - 179</div>
<svg class="sx" style="left:185.3px;top:8.2px" width="20" height="20" viewBox="0 0 20 20"><g fill="none" stroke="#151515" stroke-width="1.35"><circle cx="8" cy="6" r="3.4"/><path d="M8 9.4 V17.5 M2.2 12.2 H13.8"/></g></svg>
</div>
<svg style="position:absolute;left:86px;top:1378px" width="232" height="143" viewBox="86 1378 232 143"><rect x="89.0" y="1380.9" width="225.5" height="136.4" fill="none" stroke="#000" stroke-width="1.5"/></svg>
<div class="s" style="left:96.5px;top:1391.3px;font-size:24px;line-height:28px;color:#111;-webkit-text-stroke:0.25px #111;letter-spacing:1.8px;transform:scaleX(0.80)">Kadir ARSLAN</div>
<div class="s" style="left:96.5px;top:1415.2px;font-size:18px;line-height:24px;color:#111;-webkit-text-stroke:0.25px #111;letter-spacing:1.2px;word-spacing:4px">0(531) 924 80 66</div>
<div class="s" style="left:96.5px;top:1434.2px;font-size:19px;line-height:24px;color:#111;-webkit-text-stroke:0.25px #111;transform:scaleX(0.775)">OSMANİYE</div>
<div style="position:absolute;left:912px;top:1569.6px;font-family:'Liberation Sans',sans-serif;font-weight:bold;font-style:italic;font-size:24.5px;line-height:30px;color:#0c0c0c;-webkit-text-stroke:0.7px #0c0c0c;white-space:pre;transform:scaleX(1.10);transform-origin:0 0">mypedigre.com</div>
</body></html>
